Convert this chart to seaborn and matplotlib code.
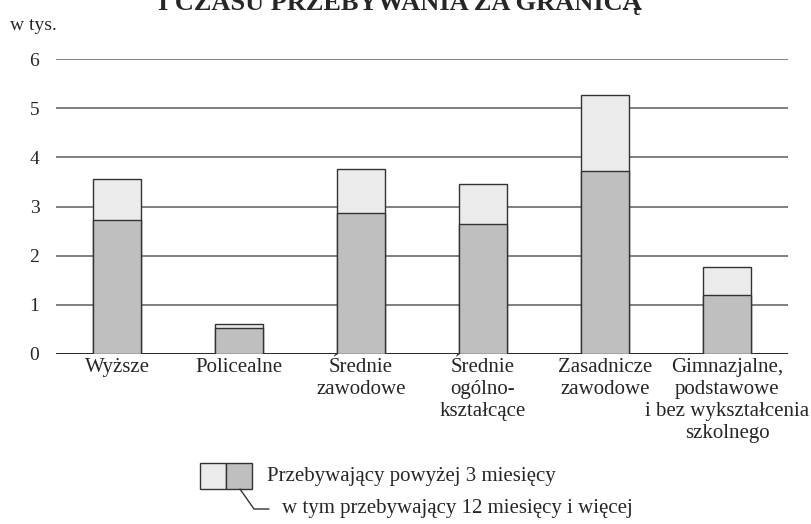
import matplotlib
matplotlib.use("Agg")
import matplotlib.pyplot as plt
import matplotlib.patches as mpatches
import matplotlib.lines as mlines
import seaborn as sns
import pandas as pd

# data (thousands of people)
categories = ["Wyższe", "Policealne", "Średnie\nzawodowe", "Średnie\nogólno-\nkształcące",
              "Zasadnicze\nzawodowe", "Gimnazjalne,\npodstawowe\ni bez wykształcenia\nszkolnego"]
above_3m = [3.56, 0.62, 3.77, 3.46, 5.27, 1.76]
above_12m = [2.73, 0.53, 2.87, 2.64, 3.72, 1.21]
yticks = [0, 1, 2, 3, 4, 5, 6]

light = "#ebebeb"
dark = "#bfbfbf"
edge = "#333333"

sns.set_style("white")
plt.rcParams["font.family"] = ["Liberation Serif", "DejaVu Serif"]

df = pd.DataFrame({"cat": categories, "total": above_3m, "long": above_12m})

fig = plt.figure(figsize=(8.11, 5.24), dpi=100)
ax = fig.add_axes([56 / 811, 1 - 354 / 524, (788 - 56) / 811, (354 - 59) / 524])

sns.barplot(data=df, x="cat", y="total", color=light, saturation=1, width=0.4,
            edgecolor=edge, linewidth=1.0, ax=ax, zorder=2)
sns.barplot(data=df, x="cat", y="long", color=dark, saturation=1, width=0.4,
            edgecolor=edge, linewidth=1.0, ax=ax, zorder=3)

ax.set_xlim(-0.5, len(categories) - 0.5)
ax.set_ylim(0, 6)
ax.set_yticks(yticks)
ax.set_yticklabels([str(v) for v in yticks], fontsize=14)
ax.tick_params(axis="both", length=0)
ax.tick_params(axis="y", pad=12)
ax.tick_params(axis="x", pad=3, labelsize=15)
ax.set_xlabel("")
ax.set_ylabel("")
for s in ax.spines.values():
    s.set_visible(False)
ax.yaxis.grid(True, color="#6a6a6a", linewidth=1.2)
ax.set_axisbelow(True)
ax.axhline(0, color="#222222", linewidth=1.3, zorder=1)

# title (cropped at the top, as in the source) and unit
fig.text(400 / 811, 1 - 10 / 524, "I CZASU PRZEBYWANIA ZA GRANICĄ", ha="center",
         va="baseline", fontsize=19, fontweight="bold")
fig.text(10 / 811, 1 - 30 / 524, "w tys.", ha="left", va="baseline", fontsize=14)

# custom legend
W, H = 811, 524
fig.patches.append(mpatches.Rectangle((200 / W, 1 - 489 / H), 26 / W, 26 / H,
                                      transform=fig.transFigure, facecolor=light,
                                      edgecolor=edge, linewidth=1.0))
fig.patches.append(mpatches.Rectangle((226 / W, 1 - 489 / H), 26 / W, 26 / H,
                                      transform=fig.transFigure, facecolor=dark,
                                      edgecolor=edge, linewidth=1.0))
fig.lines.append(mlines.Line2D([240 / W, 254 / W, 269 / W],
                               [1 - 489 / H, 1 - 509 / H, 1 - 509 / H],
                               transform=fig.transFigure, color=edge, linewidth=1.0))
fig.text(267 / W, 1 - 477 / H, "Przebywający powyżej 3 miesięcy", ha="left",
         va="center", fontsize=15)
fig.text(282 / W, 1 - 508 / H, "w tym przebywający 12 miesięcy i więcej", ha="left",
         va="center", fontsize=15)

fig.savefig("out.png", dpi=100)
plt.close(fig)
